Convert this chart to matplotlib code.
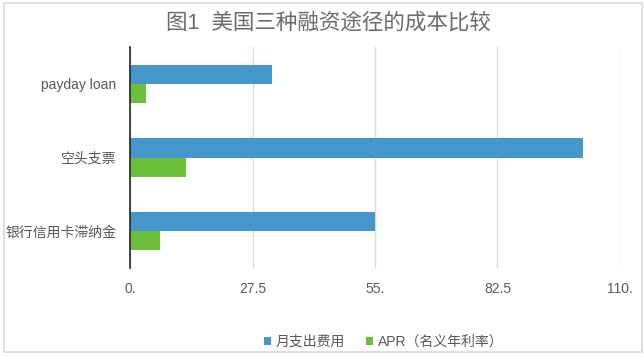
import numpy as np
import matplotlib.pyplot as plt
from matplotlib.patches import Rectangle

plt.rcParams['font.family'] = ['Liberation Sans', 'Noto Sans CJK SC', 'DejaVu Sans']

# data
categories = ['payday loan', '空头支票', '银行信用卡滞纳金']
monthly_cost = [31.9, 101.8, 54.9]
apr = [3.7, 12.6, 6.7]
series_names = ['月支出费用', 'APR（名义年利率）']
xticks = [0, 27.5, 55, 82.5, 110]
xtick_labels = ['0.', '27.5', '55.', '82.5', '110.']

blue = '#4596cb'
green = '#6cbf3a'
grey = '#595959'

W, H = 644, 358
fig = plt.figure(figsize=(W / 100, H / 100), dpi=100)
ax = fig.add_axes([130 / W, 1 - 268 / H, 490 / W, 221 / H])

y = np.arange(len(categories))
h = 0.258
ax.barh(y - h / 2, monthly_cost, height=h, color=blue, label=series_names[0])
ax.barh(y + h / 2, apr, height=h, color=green, label=series_names[1])

ax.set_xlim(0, 110)
ax.set_ylim(len(categories) - 0.5, -0.5)
ax.set_xticks(xticks)
ax.set_xticklabels(xtick_labels)
ax.set_yticks(y)
ax.set_yticklabels(categories)
ax.tick_params(axis='both', length=0, colors=grey, labelsize=10)
ax.tick_params(axis='x', pad=10)
ax.tick_params(axis='y', pad=10)

for s in ['top', 'right', 'bottom']:
    ax.spines[s].set_visible(False)
ax.spines['left'].set_color('#262626')
ax.spines['left'].set_linewidth(1.2)
ax.spines['left'].set_zorder(5)

ax.grid(axis='x', color='#d9d9d9', linewidth=1)
ax.set_axisbelow(True)

fig.text(328 / W, 1 - 23 / H, '图1  美国三种融资途径的成本比较', ha='center', va='center',
         fontsize=15.5, color='#6a6a6a')

leg = fig.legend(loc='center', bbox_to_anchor=(384 / W, 1 - 342 / H), ncol=2, frameon=False,
                 fontsize=10, handlelength=0.5, handleheight=0.5, handletextpad=0.35,
                 columnspacing=1.5)
for t in leg.get_texts():
    t.set_color(grey)

fig.patches.append(Rectangle((4 / W, 1 - 352 / H), 638 / W, 349 / H, transform=fig.transFigure,
                             fill=False, edgecolor='#d9d9d9', linewidth=1.2))

fig.savefig('out.png', dpi=100)
